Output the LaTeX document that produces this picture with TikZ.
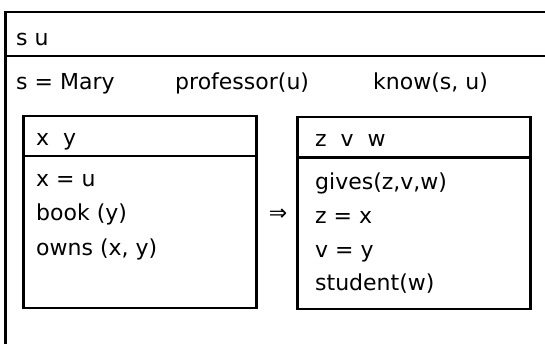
\documentclass[tikz,border=0pt]{standalone}
\usepackage{fontspec}
\setmainfont{DejaVu Sans}
\usetikzlibrary{positioning}
\tikzset{
  drsbox/.style={
    draw,
    line width=2.8pt
  },
  cond/.style={
    anchor=base west,
    inner sep=0pt,
    font=\fontsize{22pt}{26pt}\selectfont
  }
}

\begin{document}
\begin{tikzpicture}[x=1pt, y=-1pt]

\clip (0,0) rectangle (545,343);

% outer box, cut off at right and bottom
\draw[drsbox] (5.5,360) -- (5.5,12) -- (560,12);
\draw[drsbox] (5.5,56) -- (560,56);

\node[cond] (su) at (16,45) {s u};
\node[cond] (mary) at (16,89) {s = Mary};
\node[cond] (prof) at (175,89) {professor(u)};
\node[cond] (know) at (373,89) {know(s, u)};

% antecedent box
\draw[drsbox] (23.5,116) rectangle (256.5,308);
\draw[drsbox] (23.5,156) -- (256.5,156);

\node[cond] (xy) at (36,145) {x\ \ y};
\node[cond] (xu) at (36,186) {x = u};
\node[cond] (book) at (36,220) {book (y)};
\node[cond] (owns) at (36,255) {owns (x, y)};

\node[inner sep=0pt, font=\fontsize{22pt}{26pt}\selectfont] (impl) at (278,215) {⇒};

% consequent box
\draw[drsbox] (297.5,117) rectangle (530.5,309);
\draw[drsbox] (297.5,157.5) -- (530.5,157.5);

\node[cond] (zvw) at (315,146) {z\ \ v\ \ w};
\node[cond] (gives) at (315,189) {gives(z,v,w)};
\node[cond] (zx) at (315,223) {z = x};
\node[cond] (vy) at (315,257) {v = y};
\node[cond] (stud) at (315,290) {student(w)};

\end{tikzpicture}
\end{document}
